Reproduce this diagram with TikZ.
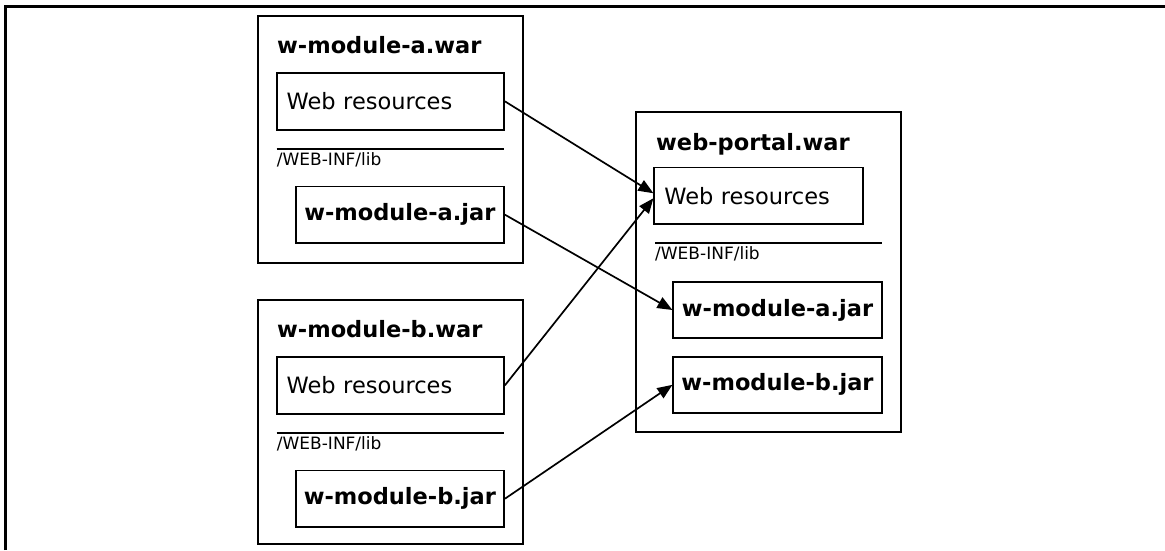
\documentclass[tikz,border=0pt]{standalone}
\usepackage{fontspec}
\setmainfont{DejaVu Sans}
\usetikzlibrary{arrows.meta}

\tikzset{
  box/.style={draw, line width=1.8pt, inner sep=0pt},
  warbox/.style={box, minimum width=265pt},
  resbox/.style={box, minimum height=57pt, inner xsep=10pt, align=left,
    font=\fontsize{22.5}{27}\selectfont},
  jarbox/.style={box, minimum width=208.4pt, minimum height=56.4pt,
    font=\fontsize{22.5}{27}\selectfont\bfseries},
  wartitle/.style={anchor=base west, inner sep=0pt,
    font=\fontsize{22.5}{27}\selectfont\bfseries},
  libtext/.style={anchor=base west, inner sep=0pt,
    font=\fontsize{17}{20}\selectfont},
  sepline/.style={line width=1.8pt},
  arrow/.style={line width=1.7pt, -{Triangle[length=15pt,width=12pt]}},
  frame/.style={line width=2.5pt}
}

\begin{document}
\begin{tikzpicture}[x=1pt, y=-1pt]
  \useasboundingbox (0,0) rectangle (1165,550);

  % outer frame (top and left edges)
  \draw[frame] (5.7,550) -- (5.7,6.3) -- (1165,6.3);

  % ---- w-module-a.war ----
  \node[warbox, minimum height=247.3pt] (awar) at (390.2,139.65) {};
  \node[wartitle] (atitle) at (277,53.3) {w-module-a.war};
  \node[resbox, text width=207.3pt] (aweb) at (390.35,101.35) {Web resources};
  \draw[sepline] (276.7,149.3) -- (504,149.3);
  \node[libtext] (alib) at (276.7,165) {/WEB-INF/lib};
  \node[jarbox] (ajar) at (399.85,214.7) {w-module-a.jar};

  % ---- w-module-b.war ----
  \node[warbox, minimum height=244.3pt] (bwar) at (390.2,422.15) {};
  \node[wartitle] (btitle) at (277,337.3) {w-module-b.war};
  \node[resbox, text width=207.3pt] (bweb) at (390.35,385.35) {Web resources};
  \draw[sepline] (276.7,433.3) -- (504,433.3);
  \node[libtext] (blib) at (276.7,449) {/WEB-INF/lib};
  \node[jarbox] (bjar) at (399.85,498.7) {w-module-b.jar};

  % ---- web-portal.war ----
  \node[warbox, minimum height=320pt] (pwar) at (768.5,271.7) {};
  \node[wartitle] (ptitle) at (656,150) {web-portal.war};
  \node[resbox, text width=188.4pt, minimum height=56.5pt] (pweb) at (758.5,195.75) {Web resources};
  \draw[sepline] (655,243.3) -- (881.7,243.3);
  \node[libtext] (plib) at (655,259.3) {/WEB-INF/lib};
  \node[jarbox] (pajar) at (777.5,310) {w-module-a.jar};
  \node[jarbox] (pbjar) at (777.5,384.85) {w-module-b.jar};

  % ---- packaging arrows ----
  \draw[arrow] (aweb.east) -- ([yshift=2.5pt]pweb.west);
  \draw[arrow] (ajar.east) -- (pajar.west);
  \draw[arrow] (bweb.east) -- ([yshift=-2.5pt]pweb.west);
  \draw[arrow] (bjar.east) -- (pbjar.west);
\end{tikzpicture}
\end{document}
